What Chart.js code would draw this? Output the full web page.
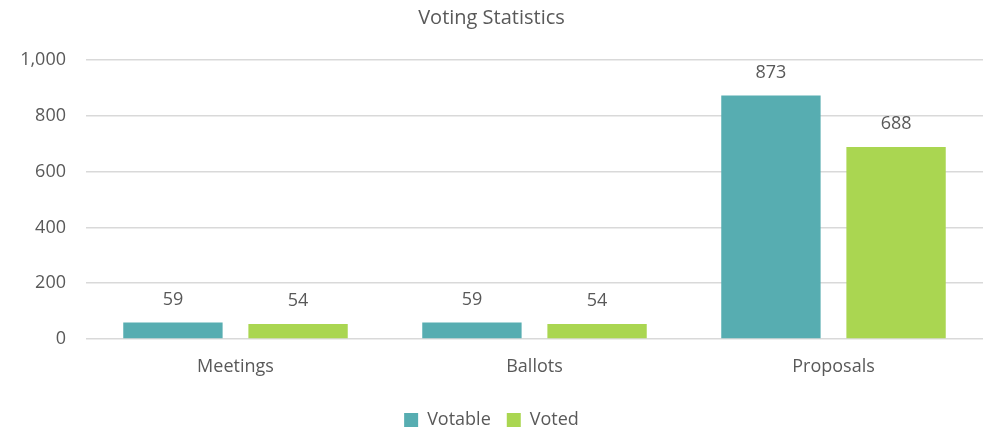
<!DOCTYPE html>
<html><head><meta charset="utf-8">
<script src="https://cdn.jsdelivr.net/npm/chart.js@4"></script>
<style>html,body{margin:0;padding:0;background:#fff}#wrap{width:985px;height:430px}</style>
</head><body><div id="wrap"><canvas id="c" width="985" height="430"></canvas></div>
<script>
const categories = ["Meetings", "Ballots", "Proposals"];
const votable = [59, 59, 873];
const voted = [54, 54, 688];
const yTicks = [0, 200, 400, 600, 800, 1000];

const FONT = "'Open Sans', sans-serif";
const TXT = "#595959";
const FS = 18;

const valueLabels = {
  id: "valueLabels",
  afterDatasetsDraw(chart) {
    const ctx = chart.ctx;
    ctx.save();
    ctx.font = FS + "px " + FONT;
    ctx.fillStyle = TXT;
    ctx.textAlign = "center";
    ctx.textBaseline = "middle";
    chart.data.datasets.forEach((ds, i) => {
      chart.getDatasetMeta(i).data.forEach((bar, j) => {
        ctx.fillText(ds.data[j].toLocaleString("en-US"), bar.x, bar.y - 23);
      });
    });
    ctx.restore();
  }
};

new Chart(document.getElementById("c"), {
  type: "bar",
  data: {
    labels: categories,
    datasets: [
      { label: "Votable", data: votable, backgroundColor: "#57ADB1" },
      { label: "Voted", data: voted, backgroundColor: "#AAD651" }
    ]
  },
  options: {
    responsive: false,
    animation: false,
    layout: { padding: { top: 6, right: 2, bottom: -9, left: 0 } },
    datasets: { bar: { categoryPercentage: 0.837, barPercentage: 0.794 } },
    plugins: {
      title: { display: true, text: "Voting Statistics", color: TXT, font: { family: FONT, size: 20, weight: "normal" }, padding: { top: 0, bottom: 30 } },
      legend: { position: "bottom", labels: { color: TXT, font: { family: FONT, size: FS }, boxWidth: 14, boxHeight: 14, padding: 16 } },
      tooltip: { enabled: false }
    },
    scales: {
      x: {
        afterFit(s) { s.height = 56; },
        grid: { display: false, drawTicks: false },
        border: { display: false },
        ticks: { color: TXT, font: { family: FONT, size: FS }, padding: 17 }
      },
      y: {
        min: 0, max: 1000,
        afterFit(s) { s.width = 86; },
        afterBuildTicks(s) { s.ticks = yTicks.map(v => ({ value: v })); },
        grid: { color: "#D9D9D9", lineWidth: 1.5, drawTicks: false },
        border: { display: false },
        ticks: { color: TXT, font: { family: FONT, size: FS }, padding: 20, callback: v => v.toLocaleString("en-US") }
      }
    }
  },
  plugins: [valueLabels]
});
</script></body></html>
